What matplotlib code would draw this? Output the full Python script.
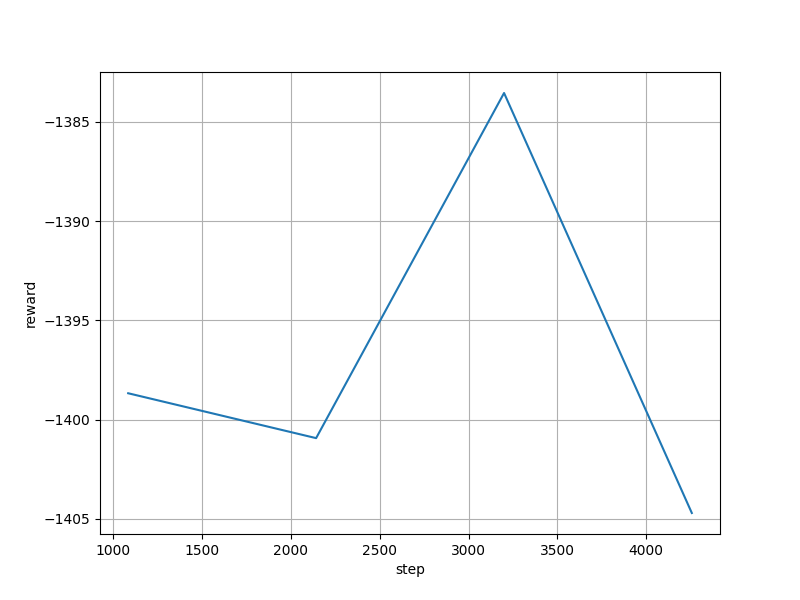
import matplotlib
matplotlib.use("Agg")
import matplotlib.pyplot as plt

steps = [1084, 2142, 3200, 4257]
rewards = [-1398.67, -1400.93, -1383.55, -1404.70]

fig, ax = plt.subplots(figsize=(8, 6), dpi=100)
ax.plot(steps, rewards)
ax.set_xlabel("step")
ax.set_ylabel("reward")
ax.grid(True)
fig.savefig("out.png")
